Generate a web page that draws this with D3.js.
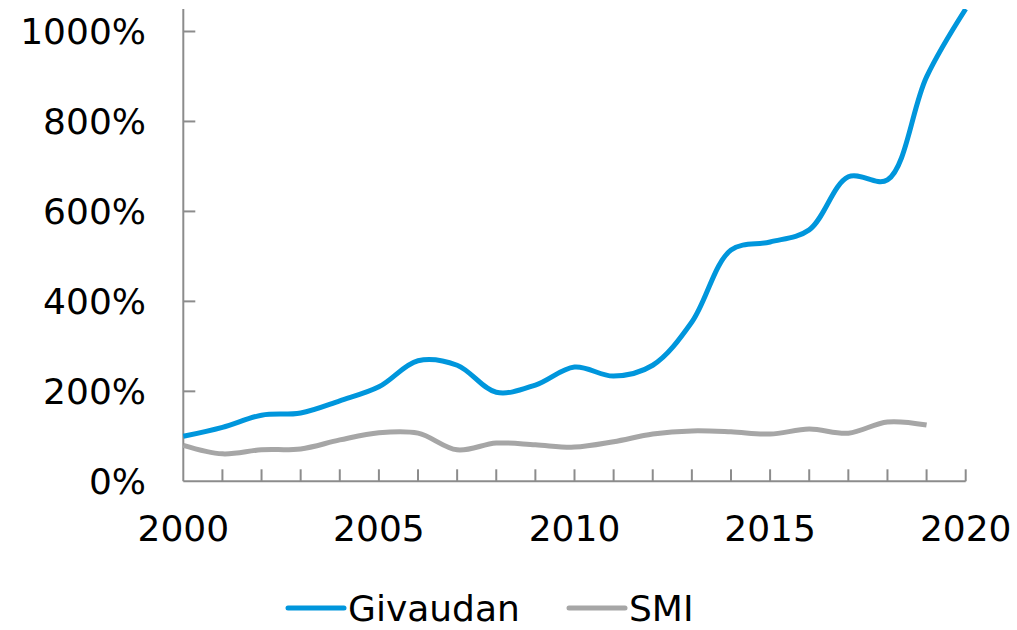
<!DOCTYPE html>
<html>
<head>
<meta charset="utf-8">
<script src="https://cdn.jsdelivr.net/npm/d3@7"></script>
<style>
  body { margin: 0; background: #fff; }
  text { font-family: "DejaVu Sans", Verdana, sans-serif; fill: #000; }
</style>
</head>
<body>
<div id="chart"></div>
<script>
const width = 1017, height = 630;

const years = d3.range(2000, 2021);
const givaudan = [100, 120, 147, 152, 179, 210, 268, 258, 198, 214, 254, 234, 258, 354, 514, 532, 559, 677, 670, 899, 1050];
const smi = [80, 61, 70, 72, 92, 108, 107, 70, 85, 81, 76, 88, 105, 112, 110, 105, 116, 107, 132, 125];
const yTicks = [0, 200, 400, 600, 800, 1000];
const xLabels = [2000, 2005, 2010, 2015, 2020];

const series = [
    {name: 'Givaudan', values: givaudan, color: '#0096dc'},
    {name: 'SMI', values: smi, color: '#a6a6a6'},
];

const x = d3.scaleLinear().domain([2000, 2020]).range([183.3, 965.7]);
const y = d3.scaleLinear().domain([0, 1050]).range([481.3, 9]);

const svg = d3.select("#chart")
    .append("svg")
    .attr("width", width)
    .attr("height", height);

svg.append("defs").append("clipPath")
    .attr("id", "plot")
    .append("rect")
    .attr("x", x(2000) - 5).attr("y", y(1050))
    .attr("width", x(2020) - x(2000) + 10).attr("height", y(0) - y(1050) + 10);

const axisColor = '#8c8c8c';

// y axis
const yAxis = svg.append("g");
yAxis.append("line")
    .attr("x1", x(2000)).attr("x2", x(2000))
    .attr("y1", y(1050)).attr("y2", y(0))
    .attr("stroke", axisColor).attr("stroke-width", 2);
yAxis.selectAll(".tick").data(yTicks.filter(d => d > 0)).join("line")
    .attr("x1", x(2000)).attr("x2", x(2000) + 12)
    .attr("y1", d => y(d)).attr("y2", d => y(d))
    .attr("stroke", axisColor).attr("stroke-width", 2);
yAxis.selectAll("text").data(yTicks).join("text")
    .attr("x", 146)
    .attr("y", d => y(d))
    .attr("dy", "0.36em")
    .attr("text-anchor", "end")
    .attr("font-size", 36)
    .text(d => d + "%");

// x axis
const xAxis = svg.append("g");
xAxis.append("line")
    .attr("x1", x(2000)).attr("x2", x(2020))
    .attr("y1", y(0)).attr("y2", y(0))
    .attr("stroke", axisColor).attr("stroke-width", 2);
xAxis.selectAll(".tick").data(years.slice(1)).join("line")
    .attr("x1", d => x(d)).attr("x2", d => x(d))
    .attr("y1", y(0)).attr("y2", y(0) - 12)
    .attr("stroke", axisColor).attr("stroke-width", 2);
xAxis.selectAll("text").data(xLabels).join("text")
    .attr("x", d => x(d))
    .attr("y", 528.5)
    .attr("dy", "0.36em")
    .attr("text-anchor", "middle")
    .attr("font-size", 36)
    .text(d => d);

// lines
const line = d3.line()
    .x((d, i) => x(years[i]))
    .y(d => y(d))
    .curve(d3.curveCatmullRom.alpha(0.5));

svg.append("g")
    .attr("clip-path", "url(#plot)")
    .selectAll("path").data(series).join("path")
    .attr("d", d => line(d.values))
    .attr("fill", "none")
    .attr("stroke", d => d.color)
    .attr("stroke-width", 5)
    .attr("stroke-linejoin", "round");

// legend
const legendPos = [288, 569];
const legend = svg.selectAll(".legend").data(series).join("g")
    .attr("transform", (d, i) => `translate(${legendPos[i]}, 608)`);
legend.append("line")
    .attr("x1", 0).attr("x2", 56)
    .attr("stroke", d => d.color)
    .attr("stroke-width", 5)
    .attr("stroke-linecap", "round");
legend.append("text")
    .attr("x", 60)
    .attr("dy", "0.36em")
    .attr("font-size", 36)
    .text(d => d.name);
</script>
</body>
</html>
